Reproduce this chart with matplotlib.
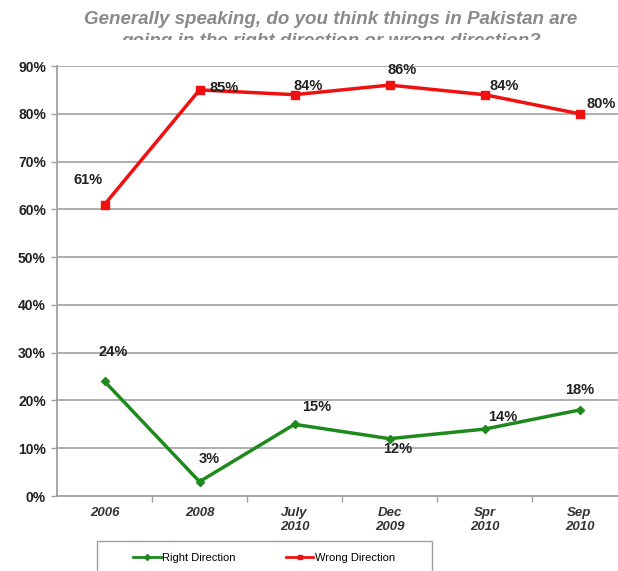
import matplotlib
matplotlib.use("Agg")
import matplotlib.pyplot as plt
from matplotlib.patches import Rectangle
from matplotlib.lines import Line2D

categories = ["2006", "2008", "July\n2010", "Dec\n2009", "Spr\n2010", "Sep\n2010"]
wrong = [61, 85, 84, 86, 84, 80]
right = [24, 3, 15, 12, 14, 18]
yticks = [0, 10, 20, 30, 40, 50, 60, 70, 80, 90]
title_line1 = "Generally speaking, do you think things in Pakistan are"
title_line2 = "going in the right direction or wrong direction?"

W, H = 618, 571
fig = plt.figure(figsize=(W / 100, H / 100), dpi=100)
plt.rcParams['font.family'] = ['Liberation Sans', 'DejaVu Sans']

ax = fig.add_axes([57 / W, 1 - 496 / H, 570 / W, (496 - 66) / H])
x = list(range(len(categories)))

ax.set_xlim(-0.5, len(categories) - 0.5)
ax.set_ylim(0, 90)
for v in yticks[1:]:
    ax.axhline(v, color="#a8a8a8", lw=1.3, zorder=1)

red = "#f01010"
green = "#1e8a1e"
ax.plot(x, wrong, color=red, lw=2.5, marker="s", ms=5.5, zorder=3)
ax.plot(x, right, color=green, lw=2.5, marker="D", ms=4, zorder=3)

wrong_off = [(-16, 25), (25, 2), (14, 9), (13, 15), (20, 9), (22, 10)]
right_off = [(9, 29), (10, 23), (22, 17), (8, -10), (18, 12), (0, 20)]
for i, v in enumerate(wrong):
    ax.annotate(f"{v}%", (x[i], v), xytext=wrong_off[i], textcoords="offset pixels",
                ha="center", va="center", fontsize=10.5, fontweight="bold", color="#222222", zorder=4)
for i, v in enumerate(right):
    ax.annotate(f"{v}%", (x[i], v), xytext=right_off[i], textcoords="offset pixels",
                ha="center", va="center", fontsize=10.5, fontweight="bold", color="#222222", zorder=4)

ax.set_yticks(yticks)
ax.set_yticklabels([f"{v}%" for v in yticks], fontsize=10, fontweight="bold", color="#222222")
ax.set_xticks(x)
ax.set_xticklabels(categories, fontsize=9.5, fontweight="bold", style="italic", color="#333333")
ax.tick_params(axis="x", length=0, pad=8)
ax.tick_params(axis="y", length=4, color="#a0a0a0", width=1, pad=4)
ax.set_xticks([i + 0.5 for i in range(len(categories) - 1)], minor=True)
ax.tick_params(axis="x", which="minor", length=4, color="#a0a0a0", width=1)

for s in ["top", "right"]:
    ax.spines[s].set_visible(False)
for s in ["left", "bottom"]:
    ax.spines[s].set_color("#a0a0a0")
    ax.spines[s].set_linewidth(1.3)

fig.text(331 / W, 1 - 20 / H, title_line1, ha="center", va="center", fontsize=13.5,
         style="italic", fontweight="bold", color="#8a8a8a")
fig.text(331 / W, 1 - 41 / H, title_line2, ha="center", va="center", fontsize=13.5,
         style="italic", fontweight="bold", color="#8a8a8a")
fig.patches.append(Rectangle((0, 1 - 60 / H), 1, 20 / H, transform=fig.transFigure,
                             facecolor="white", edgecolor="none", zorder=5))

fig.patches.append(Rectangle((97 / W, -0.05), (432 - 97) / W, 0.05 + 1 - 541 / H,
                             transform=fig.transFigure, facecolor="white",
                             edgecolor="#a0a0a0", lw=1))
handles = [Line2D([], [], color=green, lw=2, marker="D", ms=3),
           Line2D([], [], color=red, lw=2, marker="s", ms=3.5)]
fig.legend(handles, ["Right Direction", "Wrong Direction"], ncol=2, frameon=False,
           loc="center", bbox_to_anchor=(264 / W, 1 - 558 / H), fontsize=8,
           handlelength=2.5, handletextpad=0.1, columnspacing=4.5)

fig.savefig("out.png", dpi=100)
